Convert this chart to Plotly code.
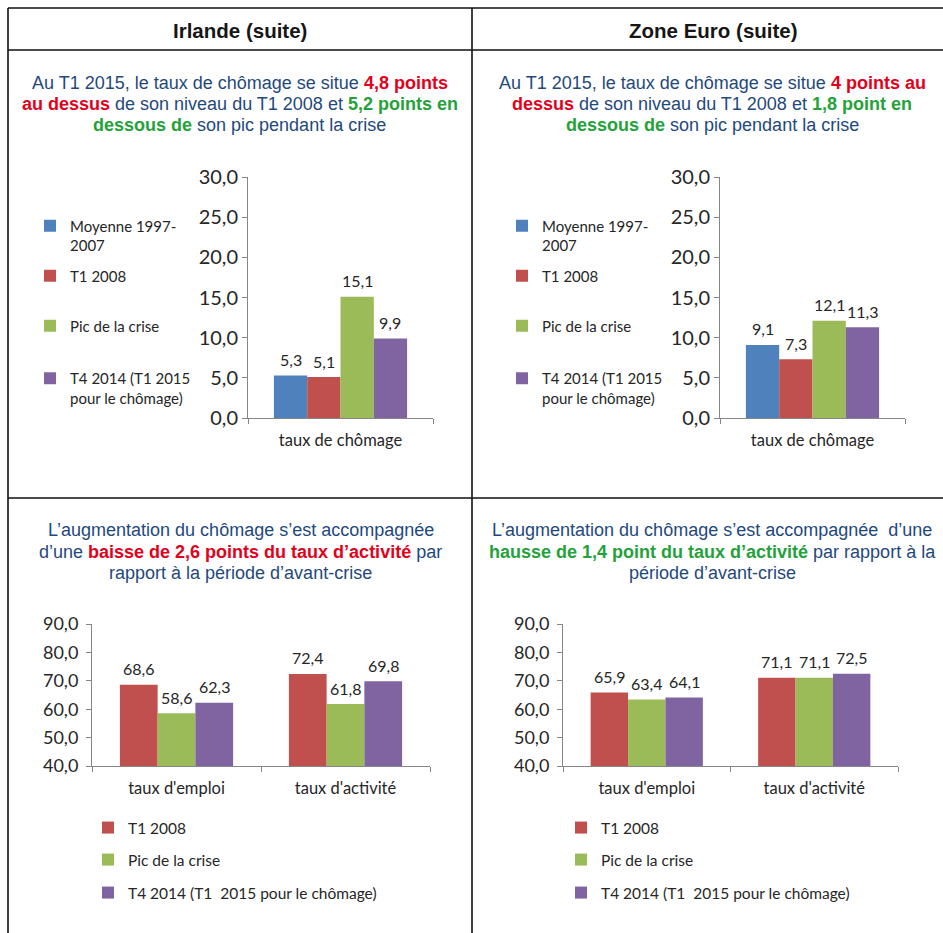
import plotly.graph_objects as go

# ---------------------------------------------------------------- data
chomage_cats = ["taux de chômage"]
chomage_series = [
    "Moyenne 1997-<br>2007",
    "T1 2008",
    "Pic de la crise",
    "T4 2014 (T1 2015<br>pour le chômage)",
]
irl_chomage = [5.3, 5.1, 15.1, 9.9]
ze_chomage = [9.1, 7.3, 12.1, 11.3]

activite_cats = ["taux d'emploi", "taux d'activité"]
activite_series = ["T1 2008", "Pic de la crise", "T4 2014 (T1\u00a0 2015 pour le chômage)"]
irl_t1_2008 = [68.6, 72.4]
irl_pic = [58.6, 61.8]
irl_t4_2014 = [62.3, 69.8]
ze_t1_2008 = [65.9, 71.1]
ze_pic = [63.4, 71.1]
ze_t4_2014 = [64.1, 72.5]

chomage_ticks = [0, 5, 10, 15, 20, 25, 30]
activite_ticks = [40, 50, 60, 70, 80, 90]

# ---------------------------------------------------------------- style
W, H = 943, 933
BLUE, RED, GREEN, PURPLE = "#4F81BD", "#C0504D", "#9BBB59", "#8064A2"
TXT_BLUE, TXT_RED, TXT_GREEN = "#1F497D", "#E3001B", "#24A23A"
AXIS_GREY = "#868686"
INK = "#262626"
CHART_FONT = "Lato"
TEXT_FONT = "Liberation Sans, Arial, sans-serif"


def px(x):
    return x / W


def py(y):
    return 1 - y / H


def slots(n, fill):
    """Bar width and per-series offsets for n bars filling `fill` of a category."""
    w = fill / n
    return w, [-fill / 2 + i * w for i in range(n)]


def fr(v):
    return f"{v:.1f}".replace(".", ",")


fig = go.Figure()
legends = {}
annotations = []
legend_count = [0]


def add_legend(x, y, size):
    legend_count[0] += 1
    key = "legend" if legend_count[0] == 1 else f"legend{legend_count[0]}"
    legends[key] = dict(
        x=px(x), xanchor="left", y=py(y), yanchor="middle",
        bgcolor="rgba(0,0,0,0)", valign="top",
        font=dict(family=CHART_FONT, size=size, color=INK),
        itemclick=False, itemdoubleclick=False,
    )
    return key


def add_bars(cats, names, values, colors, xa, ya, fill, legend_pos, legend_size):
    w, offs = slots(len(names), fill)
    for name, vals, col, off, (lx, ly) in zip(names, values, colors, offs, legend_pos):
        fig.add_trace(go.Bar(
            x=cats, y=vals, name=name, marker=dict(color=col, line=dict(width=0)),
            width=w, offset=off, hoverinfo="skip",
            xaxis=xa, yaxis=ya, legend=add_legend(lx, ly, legend_size),
        ))
        # value label above each bar
        for i, v in enumerate(vals):
            annotations.append(dict(
                text=fr(v), x=i + off + w / 2, y=v, xref=xa, yref=ya,
                xanchor="center", yanchor="middle", yshift=16, showarrow=False,
                font=dict(family=CHART_FONT, size=16, color=INK),
            ))


# top row: unemployment rate
top_legend_left = [(30, 235.5), (30, 276), (30, 326), (30, 388)]
top_legend_right = [(502, 235.5), (502, 276), (502, 326), (502, 388)]
add_bars(chomage_cats, chomage_series, [[v] for v in irl_chomage],
         [BLUE, RED, GREEN, PURPLE], "x", "y", 0.72, top_legend_left, 15)
add_bars(chomage_cats, chomage_series, [[v] for v in ze_chomage],
         [BLUE, RED, GREEN, PURPLE], "x2", "y2", 0.72, top_legend_right, 15)

# bottom row: employment and activity rates
bot_legend_left = [(88, 828), (88, 860), (88, 893)]
bot_legend_right = [(561, 828), (561, 860), (561, 893)]
add_bars(activite_cats, activite_series, [irl_t1_2008, irl_pic, irl_t4_2014],
         [RED, GREEN, PURPLE], "x3", "y3", 0.67, bot_legend_left, 15.5)
add_bars(activite_cats, activite_series, [ze_t1_2008, ze_pic, ze_t4_2014],
         [RED, GREEN, PURPLE], "x4", "y4", 0.67, bot_legend_right, 15.5)

axis_common = dict(
    showline=True, linecolor=AXIS_GREY, linewidth=1,
    ticks="outside", tickcolor=AXIS_GREY, ticklen=5, tickwidth=1,
    showgrid=False, zeroline=False, fixedrange=True, automargin=False,
)


def xaxis(domain, anchor):
    return dict(axis_common, domain=[px(domain[0]), px(domain[1])], anchor=anchor,
                type="category", tickson="boundaries", ticklabelstandoff=7,
                tickfont=dict(family=CHART_FONT, size=16.5, color=INK))


def yaxis(domain, anchor, ticks, size, standoff):
    return dict(axis_common, domain=[py(domain[1]), py(domain[0])], anchor=anchor,
                range=[ticks[0], ticks[-1]], tickvals=ticks, tickformat=".1f",
                ticklabelstandoff=standoff,
                tickfont=dict(family=CHART_FONT, size=size, color=INK))


# ---------------------------------------------------------------- texts
def bold(text, color):
    return f"<b><span style='color:{color}'>{text}</span></b>"


headers = [("Irlande (suite)", 240), ("Zone Euro (suite)", 713)]
captions = [
    (240, [83, 104, 125], [
        "Au T1 2015, le taux de chômage se situe " + bold("4,8 points", TXT_RED),
        bold("au dessus", TXT_RED) + " de son niveau du T1 2008 et " + bold("5,2 points en", TXT_GREEN),
        bold("dessous de", TXT_GREEN) + " son pic pendant la crise",
    ]),
    (712, [83, 104, 125], [
        "Au T1 2015, le taux de chômage se situe " + bold("4 points au", TXT_RED),
        bold("dessus", TXT_RED) + " de son niveau du T1 2008 et " + bold("1,8 point en", TXT_GREEN),
        bold("dessous de", TXT_GREEN) + " son pic pendant la crise",
    ]),
    (241, [530, 552, 573], [
        "L’augmentation du chômage s’est accompagnée",
        "d’une " + bold("baisse de 2,6 points du taux d’activité", TXT_RED) + " par",
        "rapport à la période d’avant-crise",
    ]),
    (712, [530, 552, 573], [
        "L’augmentation du chômage s’est accompagnée\u00a0 d’une",
        bold("hausse de 1,4 point du taux d’activité", TXT_GREEN) + " par rapport à la",
        "période d’avant-crise",
    ]),
]

for text, cx in headers:
    annotations.append(dict(
        text=f"<b>{text}</b>", x=px(cx), y=py(31), xref="paper", yref="paper",
        xanchor="center", yanchor="middle", showarrow=False,
        font=dict(family=TEXT_FONT, size=20.5, color="#161616"),
    ))
for cx, ys, lines in captions:
    for yy, line in zip(ys, lines):
        annotations.append(dict(
            text=line, x=px(cx), y=py(yy), xref="paper", yref="paper",
            xanchor="center", yanchor="middle", showarrow=False,
            font=dict(family=TEXT_FONT, size=18, color=TXT_BLUE),
        ))

# table rules
rules = [
    (8, 8, W, 8), (8, 50, W, 50), (8, 498, W, 498),
    (8, 8, 8, H), (472, 8, 472, H),
]
shapes = [dict(type="line", xref="paper", yref="paper",
               x0=px(a), y0=py(b), x1=px(c), y1=py(d),
               line=dict(color="#111111", width=1.6)) for a, b, c, d in rules]

fig.update_layout(
    width=W, height=H, margin=dict(l=0, r=0, t=0, b=0, pad=0, autoexpand=False),
    paper_bgcolor="white", plot_bgcolor="white",
    separators=", ", barmode="group", showlegend=True,
    xaxis=xaxis((248, 433), "y"),
    yaxis=yaxis((177, 418), "x", chomage_ticks, 20, 0),
    xaxis2=xaxis((720, 905), "y2"),
    yaxis2=yaxis((177, 418), "x2", chomage_ticks, 20, 0),
    xaxis3=xaxis((92, 430), "y3"),
    yaxis3=yaxis((624, 766), "x3", activite_ticks, 18, 4),
    xaxis4=xaxis((563, 898), "y4"),
    yaxis4=yaxis((624, 766), "x4", activite_ticks, 18, 4),
    annotations=annotations, shapes=shapes,
    **legends,
)

fig.write_html("out.html")
